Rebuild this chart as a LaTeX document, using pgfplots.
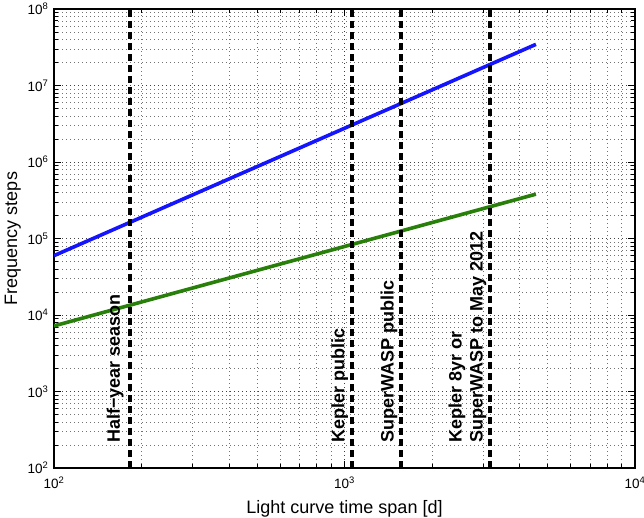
\documentclass[border=0pt]{standalone}
\usepackage{pgfplots}
\pgfplotsset{compat=1.18}
\usepackage{fontspec}
\setmainfont{Liberation Sans}
\definecolor{mblue}{RGB}{20,20,255}
\definecolor{mgreen}{RGB}{40,128,10}
\begin{document}
\begin{tikzpicture}
\begin{axis}[
  at={(0,0)}, anchor=south west,
  scale only axis, width=581pt, height=459pt,
  xmode=log, ymode=log,
  xmin=100, xmax=10000, ymin=100, ymax=1e8,
  xtick={100,1000,10000},
  xticklabels={10\textsuperscript{2},10\textsuperscript{3},10\textsuperscript{4}},
  ytick={1e2,1e3,1e4,1e5,1e6,1e7,1e8},
  yticklabels={10\textsuperscript{2},10\textsuperscript{3},10\textsuperscript{4},10\textsuperscript{5},10\textsuperscript{6},10\textsuperscript{7},10\textsuperscript{8}},
  minor xtick={200,300,400,500,600,700,800,900,2000,3000,4000,5000,6000,7000,8000,9000},
  minor ytick={200,300,400,500,600,700,800,900,
    2000,3000,4000,5000,6000,7000,8000,9000,
    2e4,3e4,4e4,5e4,6e4,7e4,8e4,9e4,
    2e5,3e5,4e5,5e5,6e5,7e5,8e5,9e5,
    2e6,3e6,4e6,5e6,6e6,7e6,8e6,9e6,
    2e7,3e7,4e7,5e7,6e7,7e7,8e7,9e7},
  grid=both,
  major grid style={black!75, line width=0.6pt, dash pattern=on 0.8pt off 3.2pt},
  minor grid style={black!55, line width=0.6pt, dash pattern=on 0.8pt off 3.2pt},
  tick align=inside,
  major tick length=7pt, minor tick length=4pt,
  every tick/.style={black, line width=0.7pt},
  axis line style={line width=1.1pt},
  tick label style={font=\fontsize{13.5}{15}\selectfont},
  xticklabel style={yshift=-5pt},
  yticklabel style={xshift=-2pt},
  label style={font=\fontsize{18}{21}\selectfont},
  xlabel={Light curve time span [d]},
  xlabel style={yshift=-5pt},
  ylabel={Frequency steps},
]
\addplot[mblue, line width=3.6pt] coordinates {(100,5.97e4) (4560,3.45e7)};
\addplot[mgreen, line width=3.6pt] coordinates {(100,7.2e3) (4560,3.8e5)};
\addplot[black, line width=3.6pt, dash pattern=on 7pt off 4pt] coordinates {(182.6,100) (182.6,1e8)};
\addplot[black, line width=3.6pt, dash pattern=on 7pt off 4pt] coordinates {(1059,100) (1059,1e8)};
\addplot[black, line width=3.6pt, dash pattern=on 7pt off 4pt] coordinates {(1565,100) (1565,1e8)};
\addplot[black, line width=3.6pt, dash pattern=on 7pt off 4pt] coordinates {(3169,100) (3169,1e8)};
\node[rotate=90, anchor=south west, inner sep=0pt, font=\bfseries\fontsize{18}{21}\selectfont] at (axis cs:174,212) {Half−year season};
\node[rotate=90, anchor=south west, inner sep=0pt, font=\bfseries\fontsize{18}{21}\selectfont] at (axis cs:1030,212) {Kepler public};
\node[rotate=90, anchor=south west, inner sep=0pt, font=\bfseries\fontsize{18}{21}\selectfont] at (axis cs:1522,212) {SuperWASP public};
\node[rotate=90, anchor=south west, inner sep=0pt, align=left, font=\bfseries\fontsize{18}{21}\selectfont] at (axis cs:3085,212) {Kepler 8yr or\\SuperWASP to May 2012};
\end{axis}
\pgfresetboundingbox
\path[use as bounding box] (-54pt,-49pt) rectangle (590pt,468pt);
\end{tikzpicture}
\end{document}
